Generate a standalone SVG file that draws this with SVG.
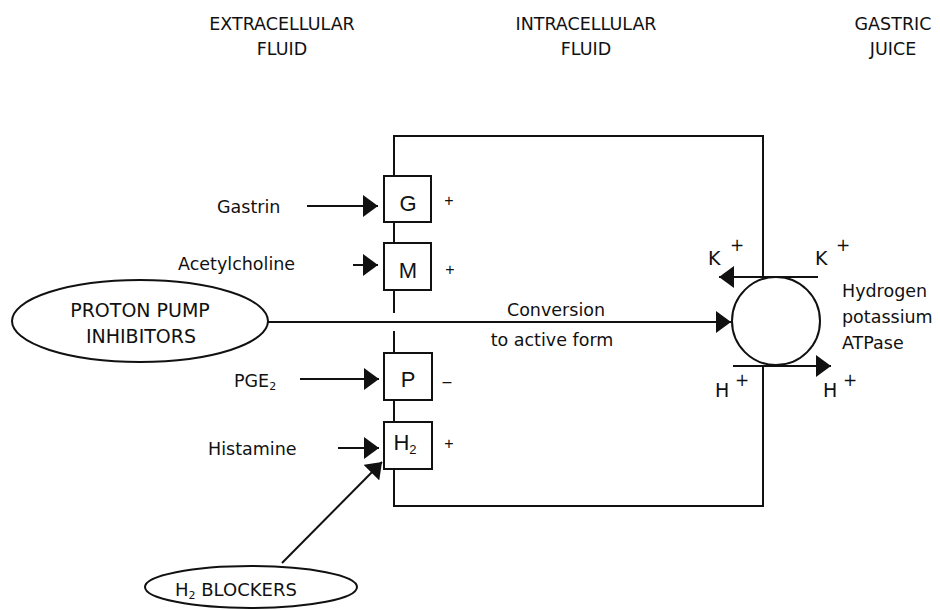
<svg xmlns="http://www.w3.org/2000/svg" width="940" height="610" viewBox="0 0 940 610">
<style>
text{font-family:"DejaVu Sans","Liberation Sans",sans-serif;fill:#111}
.hdr{font-size:17.5px;text-anchor:middle}
.lbl{font-size:17.5px}
.box{fill:#fff;stroke:#111;stroke-width:2}
.bl{font-family:"Liberation Sans",Arial,sans-serif;font-size:22px;text-anchor:middle}
.sgn{font-family:"Liberation Sans",Arial,sans-serif;font-size:16px;text-anchor:middle}
.ln{fill:none;stroke:#111;stroke-width:2}
.arr{fill:none;stroke:#111;stroke-width:2;marker-end:url(#ah)}
.ion{font-size:19px}
.sup{font-size:17px;text-anchor:middle}
</style>
<defs>
<marker id="ah" markerUnits="userSpaceOnUse" markerWidth="15" markerHeight="22" refX="15" refY="11" orient="auto">
<path d="M0,0 L15,11 L0,22 z" fill="#111"/>
</marker>
</defs>
<g id="headers">
<text class="hdr" x="282" y="30">EXTRACELLULAR</text>
<text class="hdr" x="282" y="55">FLUID</text>
<text class="hdr" x="586" y="30">INTRACELLULAR</text>
<text class="hdr" x="586" y="55">FLUID</text>
<text class="hdr" x="893" y="30">GASTRIC</text>
<text class="hdr" x="893" y="55">JUICE</text>
</g>
<g id="connectors">
<path class="ln" d="M394,176 V136 H763 V277"/>
<path class="ln" d="M394,222 V243"/>
<path class="ln" d="M394,290 V313"/>
<path class="ln" d="M394,331 V353"/>
<path class="ln" d="M394,400 V422"/>
<path class="ln" d="M394,469 V506 H763 V366"/>
<path class="arr" d="M307,206 H378"/>
<path class="arr" d="M353,265 H378"/>
<path class="arr" d="M300,379 H379"/>
<path class="arr" d="M338,448 H379"/>
<path class="arr" d="M282,563 L382,462"/>
<path class="arr" d="M268,322 H731"/>
<path class="arr" d="M818,277 H719"/>
<path class="arr" d="M733,366 H831"/>
</g>
<g id="receptor-G">
<rect class="box" x="384" y="176" width="47" height="46"/>
<text class="bl" x="408" y="211">G</text>
<text class="sgn" x="449" y="206">+</text>
</g>
<g id="receptor-M">
<rect class="box" x="384" y="243" width="47" height="47"/>
<text class="bl" x="408" y="278">M</text>
<text class="sgn" x="450" y="275">+</text>
</g>
<g id="receptor-P">
<rect class="box" x="384" y="353" width="48" height="47"/>
<text class="bl" x="408" y="387">P</text>
<text class="sgn" x="447" y="387">–</text>
</g>
<g id="receptor-H2">
<rect class="box" x="384" y="422" width="48" height="47"/>
<text class="bl" x="405" y="450">H<tspan font-size="13" dy="4">2</tspan></text>
<text class="sgn" x="449" y="449">+</text>
</g>
<g id="labels">
<text class="lbl" x="217" y="213">Gastrin</text>
<text class="lbl" x="178" y="270">Acetylcholine</text>
<text class="lbl" x="234" y="387">PGE<tspan font-size="11" dy="3">2</tspan></text>
<text class="lbl" x="208" y="455">Histamine</text>
</g>
<g id="ppi">
<ellipse cx="140" cy="321" rx="128" ry="41" fill="#fff" stroke="#111" stroke-width="2"/>
<text x="140" y="317" font-size="19" text-anchor="middle">PROTON PUMP</text>
<text x="141" y="343" font-size="19" text-anchor="middle">INHIBITORS</text>
</g>
<g id="h2-blockers">
<ellipse cx="251" cy="587" rx="106" ry="21" fill="#fff" stroke="#111" stroke-width="2"/>
<text x="175" y="596" font-size="18">H<tspan font-size="11" dy="3">2</tspan><tspan dy="-3"> BLOCKERS</tspan></text>
</g>
<g id="conversion">
<text class="lbl" x="556" y="316" text-anchor="middle">Conversion</text>
<text class="lbl" x="552" y="346" text-anchor="middle">to active form</text>
</g>
<g id="pump">
<circle cx="776" cy="321" r="44" fill="#fff" stroke="#111" stroke-width="2"/>
<text class="lbl" x="842" y="297">Hydrogen</text>
<text class="lbl" x="842" y="323">potassium</text>
<text class="lbl" x="842" y="349">ATPase</text>
</g>
<g id="ions">
<text class="ion" x="708" y="265">K</text>
<text class="sup" x="737" y="251">+</text>
<text class="ion" x="815" y="265">K</text>
<text class="sup" x="843" y="251">+</text>
<text class="ion" x="715" y="397">H</text>
<text class="sup" x="742" y="386">+</text>
<text class="ion" x="823" y="397">H</text>
<text class="sup" x="850" y="386">+</text>
</g>
</svg>
